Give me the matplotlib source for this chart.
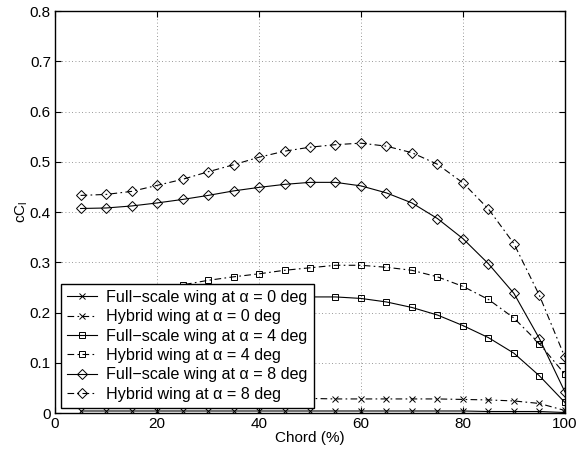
import numpy as np
import matplotlib
matplotlib.use("Agg")
import matplotlib.pyplot as plt

plt.rcParams["font.family"] = ["Liberation Sans", "DejaVu Sans"]
plt.rcParams["mathtext.fontset"] = "custom"
plt.rcParams["mathtext.rm"] = "Liberation Sans"
plt.rcParams["mathtext.it"] = "Liberation Sans"

# chord stations (%)
chord = [5, 10, 15, 20, 25, 30, 35, 40, 45, 50,
         55, 60, 65, 70, 75, 80, 85, 90, 95, 100]

full_a0 = [0.004, 0.004, 0.004, 0.004, 0.004, 0.004, 0.004, 0.004, 0.004, 0.004,
           0.004, 0.004, 0.004, 0.004, 0.004, 0.004, 0.003, 0.003, 0.003, 0.001]
hyb_a0 = [0.030, 0.030, 0.030, 0.030, 0.030, 0.030, 0.030, 0.030, 0.029, 0.029,
          0.028, 0.028, 0.028, 0.028, 0.028, 0.027, 0.026, 0.024, 0.019, 0.005]
full_a4 = [0.205, 0.206, 0.208, 0.211, 0.215, 0.219, 0.223, 0.226, 0.229, 0.231,
           0.231, 0.228, 0.221, 0.210, 0.195, 0.174, 0.150, 0.119, 0.074, 0.021]
hyb_a4 = [0.235, 0.237, 0.242, 0.249, 0.255, 0.264, 0.271, 0.277, 0.284, 0.289,
          0.294, 0.294, 0.290, 0.284, 0.271, 0.252, 0.226, 0.189, 0.138, 0.077]
full_a8 = [0.407, 0.408, 0.412, 0.418, 0.425, 0.433, 0.442, 0.449, 0.455, 0.459,
           0.459, 0.452, 0.438, 0.418, 0.387, 0.347, 0.297, 0.238, 0.148, 0.042]
hyb_a8 = [0.433, 0.435, 0.441, 0.453, 0.465, 0.480, 0.494, 0.509, 0.521, 0.529,
          0.534, 0.537, 0.531, 0.518, 0.495, 0.458, 0.406, 0.337, 0.234, 0.111]

DASHDOT = (0, (6, 3, 1.5, 3))

series = [
    (full_a0, "-", "x", 4, "Full\u2212scale wing at \u03b1 = 0 deg"),
    (hyb_a0, DASHDOT, "x", 4, "Hybrid wing at \u03b1 = 0 deg"),
    (full_a4, "-", "s", 5, "Full\u2212scale wing at \u03b1 = 4 deg"),
    (hyb_a4, DASHDOT, "s", 5, "Hybrid wing at \u03b1 = 4 deg"),
    (full_a8, "-", "D", 4.6, "Full\u2212scale wing at \u03b1 = 8 deg"),
    (hyb_a8, DASHDOT, "D", 4.6, "Hybrid wing at \u03b1 = 8 deg"),
]

fig = plt.figure(figsize=(5.86, 4.55), dpi=100)
ax = fig.add_axes([0.094, 0.0923, 0.870, 0.8835])

for vals, ls, mk, ms, lab in series:
    ax.plot(chord, vals, color="black", linestyle=ls, linewidth=0.8,
            marker=mk, markersize=ms, markerfacecolor="none",
            markeredgecolor="black", markeredgewidth=0.7, label=lab)

ax.set_xlim(0, 100)
ax.set_ylim(0, 0.8)
ax.set_xticks(np.arange(0, 101, 20))
ax.set_yticks(np.arange(0, 0.81, 0.1))
ax.set_yticklabels(["0", "0.1", "0.2", "0.3", "0.4", "0.5", "0.6", "0.7", "0.8"])
ax.grid(True, linestyle=(0, (1, 3)), color="#777777", linewidth=0.6)
ax.tick_params(direction="in", top=True, right=True, length=4,
               labelsize=11, width=0.8, pad=3)
for sp in ax.spines.values():
    sp.set_linewidth(1.0)

ax.set_xlabel("Chord (%)", fontsize=11, labelpad=0)
ax.set_ylabel("cC$_\\mathregular{l}$", fontsize=11, labelpad=0)

leg = ax.legend(loc="lower left", bbox_to_anchor=(0.011, 0.012),
                borderaxespad=0, fancybox=False, edgecolor="black",
                framealpha=1, fontsize=11.6, handlelength=1.85,
                labelspacing=0.27, borderpad=0.4, handletextpad=0.55)
leg.get_frame().set_linewidth(1.0)

fig.savefig("out.png", dpi=100)
